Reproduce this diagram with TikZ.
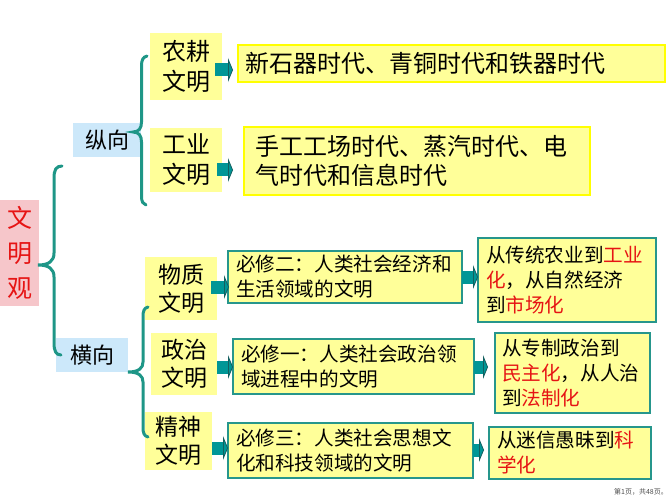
\documentclass[tikz,border=0pt]{standalone}
\usepackage{fontspec}
\setmainfont{Noto Sans CJK SC}
\usetikzlibrary{arrows.meta}
\definecolor{lyellow}{RGB}{255,255,153}
\definecolor{yborder}{RGB}{255,255,0}
\definecolor{tborder}{RGB}{38,150,140}
\definecolor{bracec}{RGB}{30,150,135}
\definecolor{arrowteal}{RGB}{0,150,150}
\definecolor{arrowdark}{RGB}{20,95,95}
\definecolor{lblue}{RGB}{204,232,250}
\definecolor{lpink}{RGB}{246,198,202}
\definecolor{tred}{RGB}{230,20,20}
\newcommand{\hl}[1]{\textcolor{tred}{#1}}
\begin{document}
\begin{tikzpicture}[x=1pt,y=-1pt,
  every node/.style={inner sep=0pt, outer sep=0pt},
  cat/.style={fill=lyellow, align=center, font=\fontsize{24}{30}\selectfont},
  cat2/.style={fill=lyellow, align=center, font=\fontsize{23}{28}\selectfont},
  dir/.style={fill=lblue, align=center, font=\fontsize{22}{26}\selectfont},
  ybox/.style={fill=lyellow, draw=yborder, line width=2.5pt, align=left, font=\fontsize{24}{29}\selectfont},
  gbox/.style={fill=lyellow, draw=tborder, line width=2pt, align=left, font=\fontsize{19.6}{25}\selectfont},
  bracep/.style={draw=bracec, line width=3pt, line cap=round},
  barrow/.style={draw=arrowteal, line width=13pt,
    -{Triangle[length=5pt,width=24pt,line width=0.8pt,fill=arrowteal,color=arrowdark]}}
]
\useasboundingbox (0,0) rectangle (667,500);

% root
\node[fill=lpink, minimum width=39pt, minimum height=106pt, align=center,
  font=\fontsize{25}{35}\selectfont, text=tred] (wmg) at (19.5,253) {文\\明\\观};

% directions
\node[dir, minimum width=68pt, minimum height=34pt] (zx) at (107,140) {纵向};
\node[dir, minimum width=72pt, minimum height=34pt] (hx) at (92,355) {横向};

% categories
\node[cat, minimum width=72pt, minimum height=67pt] (ng) at (186,66.5) {农耕\\文明};
\node[cat, minimum width=72pt, minimum height=64pt] (gy) at (186,160) {工业\\文明};
\node[cat2, minimum width=72pt, minimum height=63pt] (wz) at (181,288.5) {物质\\文明};
\node[cat2, minimum width=66pt, minimum height=62pt] (zz) at (184,364) {政治\\文明};
\node[cat2, minimum width=67pt, minimum height=58pt] (js) at (178.5,441) {精神\\文明};

% upper boxes
\node[ybox, inner xsep=7pt, text width=413pt, minimum height=37pt] (t1) at (451.5,63.5)
  {新石器时代、青铜时代和铁器时代};
\node[ybox, inner xsep=11pt, text width=324pt, minimum height=68pt] (t2) at (417,161)
  {手工工场时代、蒸汽时代、电\\气时代和信息时代};

% lower boxes
\node[gbox, inner xsep=8pt, text width=218pt, minimum height=52pt] (b2) at (345,277)
  {必修二：人类社会经济和\\生活领域的文明};
\node[gbox, inner xsep=8pt, text width=225pt, minimum height=55pt] (b1) at (353.5,366.5)
  {必修一：人类社会政治领\\域进程中的文明};
\node[gbox, inner xsep=8pt, text width=229pt, minimum height=55pt] (b3) at (350.5,450.5)
  {必修三：人类社会思想文\\化和科技领域的文明};

\node[gbox, inner xsep=8pt, text width=162pt, minimum height=84pt] (r2) at (567,280)
  {从传统农业到\hl{工业}\\\hl{化}，从自然经济\\到\hl{市场化}};
\node[gbox, inner xsep=7pt, text width=141pt, minimum height=80pt] (r1) at (572.5,373)
  {从专制政治到\\\hl{民主化}，从人治\\到\hl{法制化}};
\node[gbox, inner xsep=8pt, text width=146pt, minimum height=52pt] (r3) at (570,453)
  {从迷信愚昧到\hl{科}\\\hl{学化}};

% footer
\node[font=\fontsize{7}{8}\selectfont, text=black!70] (ft) at (641,492) {第1页，共48页。};

% braces
\draw[bracep] (62,166) .. controls (56,166) and (54,170) .. (54,178) -- (54,253)
  .. controls (54,261) and (49,265) .. (38,265)
  .. controls (49,265) and (54,269) .. (54,277) -- (54,343)
  .. controls (54,351) and (56,355) .. (61,355);
\draw[bracep] (147,56) .. controls (143,57) and (141.5,60) .. (141.5,66) -- (141.5,122)
  .. controls (141.5,128) and (139,132) .. (133,132)
  .. controls (139,132) and (141.5,136) .. (141.5,142) -- (141.5,196)
  .. controls (141.5,202) and (143,204) .. (146,205);
\draw[bracep] (148,307) .. controls (144,308) and (143,311) .. (143,317) -- (143,362)
  .. controls (143,368) and (139,372) .. (128,372)
  .. controls (139,372) and (143,376) .. (143,382) -- (143,427)
  .. controls (143,433) and (144,436) .. (148,437);

% arrows
\coordinate (y1) at (0,70);
\coordinate (y2) at (0,170);
\coordinate (y3) at (0,287);
\coordinate (y4) at (0,367);
\coordinate (y5) at (0,448);
\coordinate (y6) at (0,277);
\coordinate (y8) at (0,450);
\draw[barrow, shorten <=-7pt, shorten >=5pt] (ng.east |- y1) -- (t1.west |- y1);
\draw[barrow, shorten <=-5pt, shorten >=11pt] (gy.east |- y2) -- (t2.west |- y2);
\draw[barrow, shorten <=-6pt, shorten >=-1pt] (wz.east |- y3) -- (b2.west |- y3);
\draw[barrow] (zz.east |- y4) -- (b1.west |- y4);
\draw[barrow] (js.east |- y5) -- (b3.west |- y5);
\draw[barrow] (b2.east |- y6) -- (r2.west |- y6);
\draw[barrow, shorten >=7pt] (b1.east |- y4) -- (r1.west |- y4);
\draw[barrow, shorten >=5pt] (b3.east |- y8) -- (r3.west |- y8);
\end{tikzpicture}
\end{document}
